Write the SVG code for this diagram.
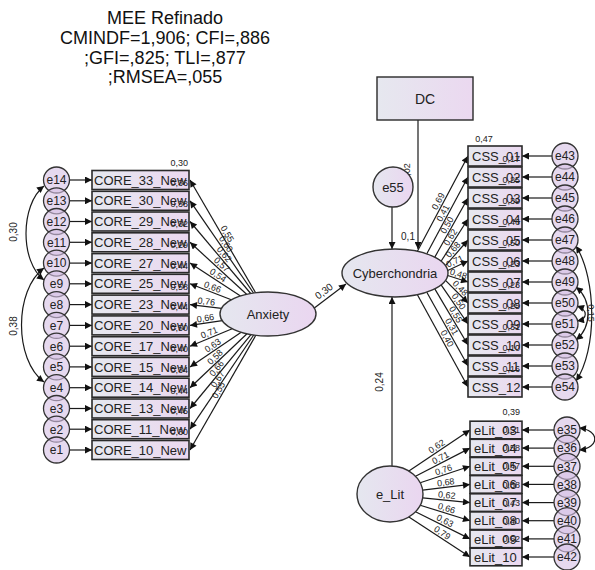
<svg xmlns="http://www.w3.org/2000/svg" width="595" height="570" viewBox="0 0 595 570">
<defs>
<linearGradient id="gb" x1="0" y1="0" x2="1" y2="0"><stop offset="0" stop-color="#e6e8ef"/><stop offset="1" stop-color="#ebd8f0"/></linearGradient>
<linearGradient id="gl" x1="0" y1="0" x2="1" y2="0"><stop offset="0" stop-color="#e5e7ef"/><stop offset="1" stop-color="#ead6f0"/></linearGradient>
<marker id="ah" viewBox="0 0 10 10" refX="10" refY="5" markerWidth="10" markerHeight="7" orient="auto-start-reverse" markerUnits="userSpaceOnUse"><path d="M0,0 L10,5 L0,10 z" fill="#111"/></marker>
</defs>
<style>
.box{fill:url(#gb);stroke:#2a2a2a;stroke-width:1.6}
.lat{fill:url(#gl);stroke:#333;stroke-width:1.4}
.err{fill:#d5c0e4;fill-opacity:0.6;stroke:#333;stroke-width:1.3}
text{font-family:"Liberation Sans",Arial,sans-serif;fill:#222}
.bt{font-size:13px}
.et{font-size:12px;text-anchor:middle}
.lt{font-size:13px;text-anchor:middle}
.sm{font-size:9px;text-anchor:middle}
.r2{font-size:9px;text-anchor:end}
.ti{font-size:18px;text-anchor:middle;fill:#111}
.ln{stroke:#1a1a1a;stroke-width:1.2;fill:none;marker-end:url(#ah)}
.cv{stroke:#1a1a1a;stroke-width:1.2;fill:none;marker-start:url(#ah);marker-end:url(#ah)}
</style>

<g id="title">
<text class="ti" x="165" y="24">MEE Refinado</text>
<text class="ti" x="165" y="44">CMINDF=1,906; CFI=,886</text>
<text class="ti" x="165" y="64">;GFI=,825; TLI=,877</text>
<text class="ti" x="165" y="83">;RMSEA=,055</text>
</g>

<g id="connectors">
<path class="ln" d="M69.5,180 L92,180"/>
<path class="ln" d="M69.5,200.8 L92,200.8"/>
<path class="ln" d="M69.5,221.5 L92,221.5"/>
<path class="ln" d="M69.5,242.3 L92,242.3"/>
<path class="ln" d="M69.5,263.1 L92,263.1"/>
<path class="ln" d="M69.5,283.8 L92,283.8"/>
<path class="ln" d="M69.5,304.6 L92,304.6"/>
<path class="ln" d="M69.5,325.4 L92,325.4"/>
<path class="ln" d="M69.5,346.2 L92,346.2"/>
<path class="ln" d="M69.5,366.9 L92,366.9"/>
<path class="ln" d="M69.5,387.7 L92,387.7"/>
<path class="ln" d="M69.5,408.5 L92,408.5"/>
<path class="ln" d="M69.5,429.2 L92,429.2"/>
<path class="ln" d="M69.5,450 L92,450"/>
<path class="cv" d="M44,186 C20,205 20,262 44,280"/>
<path class="cv" d="M44,268 C14,290 14,360 44,382"/>
<path class="ln" d="M255.6,292.8 L190,180"/>
<path class="ln" d="M253.5,293 L190,200.8"/>
<path class="ln" d="M250.7,293.5 L190,221.5"/>
<path class="ln" d="M246.6,294.3 L190,242.3"/>
<path class="ln" d="M240.5,296 L190,263.1"/>
<path class="ln" d="M231.3,299.8 L190,283.8"/>
<path class="ln" d="M221.6,308.4 L190,304.6"/>
<path class="ln" d="M222.3,320.7 L190,325.4"/>
<path class="ln" d="M232.2,328.7 L190,346.2"/>
<path class="ln" d="M241.2,332.2 L190,366.9"/>
<path class="ln" d="M247,333.8 L190,387.7"/>
<path class="ln" d="M251,334.6 L190,408.5"/>
<path class="ln" d="M253.7,335 L190,429.2"/>
<path class="ln" d="M255.8,335.3 L190,450"/>
<path class="ln" d="M313,309 L346,284"/>
<path class="ln" d="M418,120 L418,249"/>
<path class="ln" d="M392,207 L392,249"/>
<path class="ln" d="M392,466 L392,297"/>
<path class="ln" d="M417.4,251.2 L468,156"/>
<path class="ln" d="M426.8,253.8 L468,177"/>
<path class="ln" d="M434.8,257.1 L468,198"/>
<path class="ln" d="M441.1,261.2 L468,219"/>
<path class="ln" d="M445.5,265.7 L468,240"/>
<path class="ln" d="M447.7,270.5 L468,261"/>
<path class="ln" d="M447.7,275.5 L468,282"/>
<path class="ln" d="M445.5,280.3 L468,303"/>
<path class="ln" d="M441.1,284.8 L468,324"/>
<path class="ln" d="M434.8,288.9 L468,345"/>
<path class="ln" d="M426.8,292.2 L468,366"/>
<path class="ln" d="M417.4,294.8 L468,387"/>
<path class="ln" d="M552,156 L522,156"/>
<path class="ln" d="M552,177 L522,177"/>
<path class="ln" d="M552,198 L522,198"/>
<path class="ln" d="M552,219 L522,219"/>
<path class="ln" d="M552,240 L522,240"/>
<path class="ln" d="M552,261 L522,261"/>
<path class="ln" d="M552,282 L522,282"/>
<path class="ln" d="M552,303 L522,303"/>
<path class="ln" d="M552,324 L522,324"/>
<path class="ln" d="M552,345 L522,345"/>
<path class="ln" d="M552,366 L522,366"/>
<path class="ln" d="M552,387 L522,387"/>
<path class="cv" d="M576,246 C597,280 597,350 576,381"/>
<path class="cv" d="M576,287 C592,300 592,327 576,340"/>
<path class="cv" d="M577,306 C588,310 588,319 577,321"/>
<path class="cv" d="M579,428 C600,430 600,448 579,450"/>
<path class="ln" d="M408.9,471.1 L470,430"/>
<path class="ln" d="M415.5,476.3 L470,448.1"/>
<path class="ln" d="M420.2,482.8 L470,466.3"/>
<path class="ln" d="M422.7,490.2 L470,484.4"/>
<path class="ln" d="M422.7,497.8 L470,502.6"/>
<path class="ln" d="M420.2,505.2 L470,520.7"/>
<path class="ln" d="M415.5,511.7 L470,538.9"/>
<path class="ln" d="M408.9,516.9 L470,557"/>
<path class="ln" d="M554,430 L522,430"/>
<path class="ln" d="M554,448.1 L522,448.1"/>
<path class="ln" d="M554,466.3 L522,466.3"/>
<path class="ln" d="M554,484.4 L522,484.4"/>
<path class="ln" d="M554,502.6 L522,502.6"/>
<path class="ln" d="M554,520.7 L522,520.7"/>
<path class="ln" d="M554,538.9 L522,538.9"/>
<path class="ln" d="M554,557 L522,557"/>
</g>

<g id="path-labels">
<text class="sm" style="font-size:10px" x="17" y="232" transform="rotate(-90 17 232)">0,30</text>
<text class="sm" style="font-size:10px" x="17" y="326" transform="rotate(-90 17 326)">0,38</text>
<text class="sm" x="222.8" y="236.4" dy="-2" transform="rotate(59.8 222.8 236.4)">0,55</text>
<text class="sm" x="221.8" y="246.9" dy="-2" transform="rotate(55.4 221.8 246.9)">0,60</text>
<text class="sm" x="220.4" y="257.5" dy="-2" transform="rotate(49.9 220.4 257.5)">0,62</text>
<text class="sm" x="218.3" y="268.3" dy="-2" transform="rotate(42.6 218.3 268.3)">0,57</text>
<text class="sm" x="215.3" y="279.5" dy="-2" transform="rotate(33.2 215.3 279.5)">0,54</text>
<text class="sm" x="210.7" y="291.8" dy="-2" transform="rotate(21.2 210.7 291.8)">0,66</text>
<text class="sm" x="205.8" y="306.5" dy="-2" transform="rotate(6.9 205.8 306.5)">0,76</text>
<text class="sm" x="206.2" y="323.1" dy="-2" transform="rotate(-8.3 206.2 323.1)">0,66</text>
<text class="sm" x="211.1" y="337.4" dy="-2" transform="rotate(-22.3 211.1 337.4)">0,71</text>
<text class="sm" x="215.6" y="349.6" dy="-2" transform="rotate(-34.2 215.6 349.6)">0,63</text>
<text class="sm" x="218.5" y="360.8" dy="-2" transform="rotate(-43.4 218.5 360.8)">0,58</text>
<text class="sm" x="220.5" y="371.6" dy="-2" transform="rotate(-50.5 220.5 371.6)">0,66</text>
<text class="sm" x="221.9" y="382" dy="-2" transform="rotate(-55.9 221.9 382)">0,67</text>
<text class="sm" x="222.9" y="392.7" dy="-2" transform="rotate(-60.2 222.9 392.7)">0,55</text>
<text class="sm" style="font-size:10px" x="326" y="294" transform="rotate(-37 326 294)">0,30</text>
<text class="sm" x="410" y="172" transform="rotate(-90 410 172)">0,02</text>
<text class="sm" style="font-size:10px" x="408" y="240">0,1</text>
<text class="sm" style="font-size:10px" x="383" y="382" transform="rotate(-90 383 382)">0,24</text>
<text class="sm" x="442.7" y="203.6" dy="-2" transform="rotate(-62 442.7 203.6)">0,69</text>
<text class="sm" x="447.4" y="215.4" dy="-2" transform="rotate(-61.8 447.4 215.4)">0,41</text>
<text class="sm" x="451.4" y="227.6" dy="-2" transform="rotate(-60.7 451.4 227.6)">0,50</text>
<text class="sm" x="454.6" y="240.1" dy="-2" transform="rotate(-57.5 454.6 240.1)">0,62</text>
<text class="sm" x="456.8" y="252.9" dy="-2" transform="rotate(-48.8 456.8 252.9)">0,68</text>
<text class="sm" x="456.9" y="265.8" dy="-2" transform="rotate(-25.1 456.9 265.8)">0,71</text>
<text class="sm" x="456.9" y="278.8" dy="-2" transform="rotate(17.8 456.9 278.8)">0,48</text>
<text class="sm" x="456.8" y="291.7" dy="-2" transform="rotate(45.3 456.8 291.7)">0,48</text>
<text class="sm" x="454.6" y="304.4" dy="-2" transform="rotate(55.5 454.6 304.4)">0,50</text>
<text class="sm" x="451.4" y="317" dy="-2" transform="rotate(59.4 451.4 317)">0,55</text>
<text class="sm" x="447.4" y="329.1" dy="-2" transform="rotate(60.8 447.4 329.1)">0,31</text>
<text class="sm" x="442.7" y="340.9" dy="-2" transform="rotate(61.2 442.7 340.9)">0,40</text>
<text class="sm" x="439.5" y="450.5" dy="-2" transform="rotate(-33.9 439.5 450.5)">0,62</text>
<text class="sm" x="442.8" y="462.2" dy="-2" transform="rotate(-27.4 442.8 462.2)">0,71</text>
<text class="sm" x="445.1" y="474.6" dy="-2" transform="rotate(-18.3 445.1 474.6)">0,76</text>
<text class="sm" x="446.4" y="487.3" dy="-2" transform="rotate(-7 446.4 487.3)">0,68</text>
<text class="sm" x="446.4" y="500.2" dy="-2" transform="rotate(5.8 446.4 500.2)">0,62</text>
<text class="sm" x="445.1" y="513" dy="-2" transform="rotate(17.3 445.1 513)">0,66</text>
<text class="sm" x="442.8" y="525.3" dy="-2" transform="rotate(26.5 442.8 525.3)">0,63</text>
<text class="sm" x="439.5" y="537" dy="-2" transform="rotate(33.3 439.5 537)">0,79</text>
<text class="sm" x="588" y="313" transform="rotate(90 588 313)">0,15</text>
</g>

<g id="CORE_33_New"><rect class="box" x="92" y="170.5" width="97" height="19"/><text class="bt" x="94" y="184.6">CORE_33_New</text><text class="r2" x="188" y="166">0,30</text></g>
<g id="CORE_30_New"><rect class="box" x="92" y="191.3" width="97" height="19"/><text class="bt" x="94" y="205.4">CORE_30_New</text><text class="r2" x="188" y="185.8">0,36</text></g>
<g id="CORE_29_New"><rect class="box" x="92" y="212" width="97" height="19"/><text class="bt" x="94" y="226.1">CORE_29_New</text><text class="r2" x="188" y="206.5">0,38</text></g>
<g id="CORE_28_New"><rect class="box" x="92" y="232.8" width="97" height="19"/><text class="bt" x="94" y="246.9">CORE_28_New</text><text class="r2" x="188" y="227.3">0,32</text></g>
<g id="CORE_27_New"><rect class="box" x="92" y="253.6" width="97" height="19"/><text class="bt" x="94" y="267.7">CORE_27_New</text><text class="r2" x="188" y="248.1">0,29</text></g>
<g id="CORE_25_New"><rect class="box" x="92" y="274.3" width="97" height="19"/><text class="bt" x="94" y="288.4">CORE_25_New</text><text class="r2" x="188" y="268.8">0,44</text></g>
<g id="CORE_23_New"><rect class="box" x="92" y="295.1" width="97" height="19"/><text class="bt" x="94" y="309.2">CORE_23_New</text><text class="r2" x="188" y="289.6">0,58</text></g>
<g id="CORE_20_New"><rect class="box" x="92" y="315.9" width="97" height="19"/><text class="bt" x="94" y="330">CORE_20_New</text><text class="r2" x="188" y="310.4">0,44</text></g>
<g id="CORE_17_New"><rect class="box" x="92" y="336.7" width="97" height="19"/><text class="bt" x="94" y="350.8">CORE_17_New</text><text class="r2" x="188" y="331.2">0,50</text></g>
<g id="CORE_15_New"><rect class="box" x="92" y="357.4" width="97" height="19"/><text class="bt" x="94" y="371.5">CORE_15_New</text><text class="r2" x="188" y="351.9">0,40</text></g>
<g id="CORE_14_New"><rect class="box" x="92" y="378.2" width="97" height="19"/><text class="bt" x="94" y="392.3">CORE_14_New</text><text class="r2" x="188" y="372.7">0,34</text></g>
<g id="CORE_13_New"><rect class="box" x="92" y="399" width="97" height="19"/><text class="bt" x="94" y="413.1">CORE_13_New</text><text class="r2" x="188" y="393.5">0,44</text></g>
<g id="CORE_11_New"><rect class="box" x="92" y="419.7" width="97" height="19"/><text class="bt" x="94" y="433.8">CORE_11_New</text><text class="r2" x="188" y="414.2">0,45</text></g>
<g id="CORE_10_New"><rect class="box" x="92" y="440.5" width="97" height="19"/><text class="bt" x="94" y="454.6">CORE_10_New</text><text class="r2" x="188" y="435">0,30</text></g>

<g id="e14"><circle class="err" cx="56.5" cy="180" r="13"/><text class="et" x="56.5" y="184.3">e14</text></g>
<g id="e13"><circle class="err" cx="56.5" cy="200.8" r="13"/><text class="et" x="56.5" y="205.1">e13</text></g>
<g id="e12"><circle class="err" cx="56.5" cy="221.5" r="13"/><text class="et" x="56.5" y="225.8">e12</text></g>
<g id="e11"><circle class="err" cx="56.5" cy="242.3" r="13"/><text class="et" x="56.5" y="246.6">e11</text></g>
<g id="e10"><circle class="err" cx="56.5" cy="263.1" r="13"/><text class="et" x="56.5" y="267.4">e10</text></g>
<g id="e9"><circle class="err" cx="56.5" cy="283.8" r="13"/><text class="et" x="56.5" y="288.1">e9</text></g>
<g id="e8"><circle class="err" cx="56.5" cy="304.6" r="13"/><text class="et" x="56.5" y="308.9">e8</text></g>
<g id="e7"><circle class="err" cx="56.5" cy="325.4" r="13"/><text class="et" x="56.5" y="329.7">e7</text></g>
<g id="e6"><circle class="err" cx="56.5" cy="346.2" r="13"/><text class="et" x="56.5" y="350.5">e6</text></g>
<g id="e5"><circle class="err" cx="56.5" cy="366.9" r="13"/><text class="et" x="56.5" y="371.2">e5</text></g>
<g id="e4"><circle class="err" cx="56.5" cy="387.7" r="13"/><text class="et" x="56.5" y="392">e4</text></g>
<g id="e3"><circle class="err" cx="56.5" cy="408.5" r="13"/><text class="et" x="56.5" y="412.8">e3</text></g>
<g id="e2"><circle class="err" cx="56.5" cy="429.2" r="13"/><text class="et" x="56.5" y="433.5">e2</text></g>
<g id="e1"><circle class="err" cx="56.5" cy="450" r="13"/><text class="et" x="56.5" y="454.3">e1</text></g>

<g id="Anxiety"><ellipse class="lat" cx="268" cy="314" rx="48" ry="22"/><text class="lt" x="268" y="318.5">Anxiety</text></g>
<g id="Cyberchondria"><ellipse class="lat" cx="395" cy="273" rx="53" ry="24"/><text class="lt" x="395" y="277.5">Cyberchondria</text></g>
<g id="e_Lit"><ellipse class="lat" cx="390" cy="494" rx="33" ry="28"/><text class="lt" x="390" y="498.5">e_Lit</text></g>
<g id="DC"><rect class="box" style="stroke-width:1.4" x="377" y="77" width="96" height="43"/><text class="lt" style="font-size:14px" x="425" y="104">DC</text></g>
<g id="e55"><circle class="lat" cx="393" cy="187" r="20"/><text class="lt" x="393" y="191.5">e55</text></g>

<g id="CSS_01"><rect class="box" x="468" y="146" width="54" height="20"/><text class="bt" x="472" y="160.6">CSS_01</text><text class="sm" x="484" y="142">0,47</text></g>
<g id="CSS_02"><rect class="box" x="468" y="167" width="54" height="20"/><text class="bt" x="472" y="181.6">CSS_02</text><text class="r2" x="520" y="162">0,17</text></g>
<g id="CSS_03"><rect class="box" x="468" y="188" width="54" height="20"/><text class="bt" x="472" y="202.6">CSS_03</text><text class="r2" x="520" y="183">0,25</text></g>
<g id="CSS_04"><rect class="box" x="468" y="209" width="54" height="20"/><text class="bt" x="472" y="223.6">CSS_04</text><text class="r2" x="520" y="204">0,39</text></g>
<g id="CSS_05"><rect class="box" x="468" y="230" width="54" height="20"/><text class="bt" x="472" y="244.6">CSS_05</text><text class="r2" x="520" y="225">0,46</text></g>
<g id="CSS_06"><rect class="box" x="468" y="251" width="54" height="20"/><text class="bt" x="472" y="265.6">CSS_06</text><text class="r2" x="520" y="246">0,50</text></g>
<g id="CSS_07"><rect class="box" x="468" y="272" width="54" height="20"/><text class="bt" x="472" y="286.6">CSS_07</text><text class="r2" x="520" y="267">0,23</text></g>
<g id="CSS_08"><rect class="box" x="468" y="293" width="54" height="20"/><text class="bt" x="472" y="307.6">CSS_08</text><text class="r2" x="520" y="288">0,23</text></g>
<g id="CSS_09"><rect class="box" x="468" y="314" width="54" height="20"/><text class="bt" x="472" y="328.6">CSS_09</text><text class="r2" x="520" y="309">0,25</text></g>
<g id="CSS_10"><rect class="box" x="468" y="335" width="54" height="20"/><text class="bt" x="472" y="349.6">CSS_10</text><text class="r2" x="520" y="330">0,31</text></g>
<g id="CSS_11"><rect class="box" x="468" y="356" width="54" height="20"/><text class="bt" x="472" y="370.6">CSS_11</text><text class="r2" x="520" y="351">0,10</text></g>
<g id="CSS_12"><rect class="box" x="468" y="377" width="54" height="20"/><text class="bt" x="472" y="391.6">CSS_12</text><text class="r2" x="520" y="372">0,16</text></g>

<g id="e43"><circle class="err" cx="565" cy="156" r="13"/><text class="et" x="565" y="160.3">e43</text></g>
<g id="e44"><circle class="err" cx="565" cy="177" r="13"/><text class="et" x="565" y="181.3">e44</text></g>
<g id="e45"><circle class="err" cx="565" cy="198" r="13"/><text class="et" x="565" y="202.3">e45</text></g>
<g id="e46"><circle class="err" cx="565" cy="219" r="13"/><text class="et" x="565" y="223.3">e46</text></g>
<g id="e47"><circle class="err" cx="565" cy="240" r="13"/><text class="et" x="565" y="244.3">e47</text></g>
<g id="e48"><circle class="err" cx="565" cy="261" r="13"/><text class="et" x="565" y="265.3">e48</text></g>
<g id="e49"><circle class="err" cx="565" cy="282" r="13"/><text class="et" x="565" y="286.3">e49</text></g>
<g id="e50"><circle class="err" cx="565" cy="303" r="13"/><text class="et" x="565" y="307.3">e50</text></g>
<g id="e51"><circle class="err" cx="565" cy="324" r="13"/><text class="et" x="565" y="328.3">e51</text></g>
<g id="e52"><circle class="err" cx="565" cy="345" r="13"/><text class="et" x="565" y="349.3">e52</text></g>
<g id="e53"><circle class="err" cx="565" cy="366" r="13"/><text class="et" x="565" y="370.3">e53</text></g>
<g id="e54"><circle class="err" cx="565" cy="387" r="13"/><text class="et" x="565" y="391.3">e54</text></g>

<g id="eLit_03"><rect class="box" x="470" y="421.2" width="52" height="17.6"/><text class="bt" x="474" y="434.6">eLit_03</text><text class="r2" x="520" y="415">0,39</text></g>
<g id="eLit_04"><rect class="box" x="470" y="439.3" width="52" height="17.6"/><text class="bt" x="474" y="452.7">eLit_04</text><text class="r2" x="520" y="433.1">0,51</text></g>
<g id="eLit_05"><rect class="box" x="470" y="457.5" width="52" height="17.6"/><text class="bt" x="474" y="470.9">eLit_05</text><text class="r2" x="520" y="451.3">0,58</text></g>
<g id="eLit_06"><rect class="box" x="470" y="475.6" width="52" height="17.6"/><text class="bt" x="474" y="489">eLit_06</text><text class="r2" x="520" y="469.4">0,47</text></g>
<g id="eLit_07"><rect class="box" x="470" y="493.8" width="52" height="17.6"/><text class="bt" x="474" y="507.2">eLit_07</text><text class="r2" x="520" y="487.6">0,38</text></g>
<g id="eLit_08"><rect class="box" x="470" y="511.9" width="52" height="17.6"/><text class="bt" x="474" y="525.3">eLit_08</text><text class="r2" x="520" y="505.7">0,43</text></g>
<g id="eLit_09"><rect class="box" x="470" y="530.1" width="52" height="17.6"/><text class="bt" x="474" y="543.5">eLit_09</text><text class="r2" x="520" y="523.9">0,40</text></g>
<g id="eLit_10"><rect class="box" x="470" y="548.2" width="52" height="17.6"/><text class="bt" x="474" y="561.6">eLit_10</text><text class="r2" x="520" y="542">0,62</text></g>

<g id="e35"><circle class="err" cx="567" cy="430" r="13"/><text class="et" x="567" y="434.3">e35</text></g>
<g id="e36"><circle class="err" cx="567" cy="448.1" r="13"/><text class="et" x="567" y="452.4">e36</text></g>
<g id="e37"><circle class="err" cx="567" cy="466.3" r="13"/><text class="et" x="567" y="470.6">e37</text></g>
<g id="e38"><circle class="err" cx="567" cy="484.4" r="13"/><text class="et" x="567" y="488.7">e38</text></g>
<g id="e39"><circle class="err" cx="567" cy="502.6" r="13"/><text class="et" x="567" y="506.9">e39</text></g>
<g id="e40"><circle class="err" cx="567" cy="520.7" r="13"/><text class="et" x="567" y="525">e40</text></g>
<g id="e41"><circle class="err" cx="567" cy="538.9" r="13"/><text class="et" x="567" y="543.2">e41</text></g>
<g id="e42"><circle class="err" cx="567" cy="557" r="13"/><text class="et" x="567" y="561.3">e42</text></g>
</svg>
